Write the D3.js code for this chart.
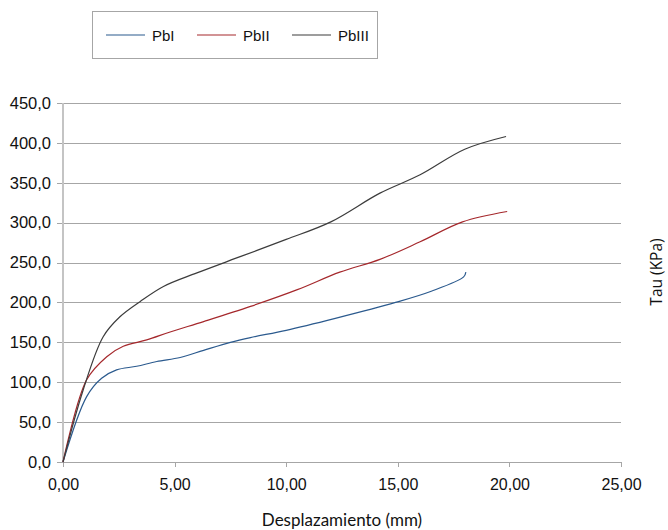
<!DOCTYPE html>
<html>
<head>
<meta charset="utf-8">
<script src="https://cdn.jsdelivr.net/npm/d3@7"></script>
<style>
  html, body { margin: 0; padding: 0; background: #fff; }
  svg { display: block; }
</style>
</head>
<body>
<svg id="chart" width="668" height="530"></svg>
<script>
// Shear test curves: displacement (mm) vs shear stress Tau (KPa)
const seriesNames = ["PbI", "PbII", "PbIII"];
const seriesColors = ["#2b5a8e", "#a5282c", "#3c3c3c"];

const pbI = [
  [0, 0], [1.06, 82], [1.73, 105], [2.4, 115.5], [3.3, 120], [4.2, 126],
  [5.25, 131], [6.3, 140], [7.5, 150], [8.4, 156], [10.0, 165], [12.2, 180],
  [14.9, 200], [16.5, 214], [17.95, 232], [18.05, 238]
];
const pbII = [
  [0, 0], [1.06, 103], [1.96, 132], [2.7, 145], [3.75, 153], [4.8, 163],
  [6.3, 176], [8.4, 195], [10.5, 216], [12.4, 238], [14.2, 254], [16.0, 276],
  [17.9, 301], [19.9, 314]
];
const pbIII = [
  [0, 0], [0.9, 90], [1.8, 157], [2.55, 182], [3.45, 201], [4.5, 220],
  [6.0, 237], [8.0, 258], [10.0, 279], [12.0, 301], [14.2, 337], [16.0, 360],
  [18.0, 392], [19.85, 408]
];
const seriesData = [pbI, pbII, pbIII];

const xTicks = [0, 5, 10, 15, 20, 25];
const yTicks = [0, 50, 100, 150, 200, 250, 300, 350, 400, 450];

const svg = d3.select("#chart");
const plot = { left: 63, right: 621, top: 103, bottom: 462 };

const x = d3.scaleLinear().domain([0, 25]).range([plot.left, plot.right]);
const y = d3.scaleLinear().domain([0, 450]).range([plot.bottom, plot.top]);

const fmtX = v => d3.format(".2f")(v).replace(".", ",");
const fmtY = v => d3.format(".1f")(v).replace(".", ",");
const labelFont = "'Liberation Sans', Arial, sans-serif";

// horizontal gridlines + y tick labels
const yAxis = d3.axisLeft(y).tickValues(yTicks).tickSize(-(plot.right - plot.left)).tickSizeOuter(0).tickPadding(12).tickFormat(fmtY);
const gy = svg.append("g").attr("transform", `translate(${plot.left},0)`).call(yAxis);
gy.select(".domain").remove();
gy.selectAll(".tick line").attr("stroke", "#a6a6a6").attr("x1", -6).attr("shape-rendering", "crispEdges");
gy.selectAll(".tick text")
  .attr("font-family", labelFont)
  .attr("font-size", 16.5).attr("fill", "#111");

// vertical axis line
svg.append("line")
  .attr("x1", plot.left).attr("x2", plot.left)
  .attr("y1", plot.top).attr("y2", plot.bottom)
  .attr("stroke", "#c4c4c4").attr("stroke-width", 2);

// x axis
const xAxis = d3.axisBottom(x).tickValues(xTicks).tickSize(5).tickSizeOuter(0).tickPadding(12).tickFormat(fmtX);
const gx = svg.append("g").attr("transform", `translate(0,${plot.bottom})`).call(xAxis);
gx.select(".domain").attr("stroke", "#a6a6a6").attr("shape-rendering", "crispEdges");
gx.selectAll(".tick line").attr("stroke", "#a6a6a6").attr("shape-rendering", "crispEdges");
gx.selectAll(".tick text")
  .attr("font-family", labelFont)
  .attr("font-size", 16).attr("fill", "#111");

// series lines
const line = d3.line()
  .x(d => x(d[0]))
  .y(d => y(d[1]))
  .curve(d3.curveCatmullRom.alpha(0.5));

svg.append("g").selectAll("path")
  .data(seriesData)
  .join("path")
  .attr("d", line)
  .attr("fill", "none")
  .attr("stroke", (d, i) => seriesColors[i])
  .attr("stroke-width", 1.2);

// axis titles
svg.append("text")
  .attr("x", 342).attr("y", 526)
  .attr("text-anchor", "middle")
  .attr("font-family", "Lato, 'Open Sans', sans-serif")
  .attr("font-size", 17).attr("fill", "#111")
  .text("Desplazamiento (mm)");

svg.append("text")
  .attr("transform", "translate(662,272) rotate(-90)")
  .attr("text-anchor", "middle")
  .attr("font-family", "'Open Sans', sans-serif")
  .attr("font-size", 15.5).attr("fill", "#111")
  .text("Tau (KPa)");

// legend
const legend = svg.append("g");
legend.append("rect")
  .attr("x", 92.5).attr("y", 11.5).attr("width", 285).attr("height", 47)
  .attr("fill", "#fff").attr("stroke", "#a6a6a6");
const legendX = [106, 197, 292];
seriesNames.forEach((name, i) => {
  legend.append("line")
    .attr("x1", legendX[i]).attr("x2", legendX[i] + 39)
    .attr("y1", 35).attr("y2", 35)
    .attr("stroke", seriesColors[i]).attr("stroke-width", 1.2);
  legend.append("text")
    .attr("x", legendX[i] + 46).attr("y", 40.5)
    .attr("font-family", labelFont)
    .attr("font-size", 15).attr("fill", "#111")
    .text(name);
});
</script>
</body>
</html>
